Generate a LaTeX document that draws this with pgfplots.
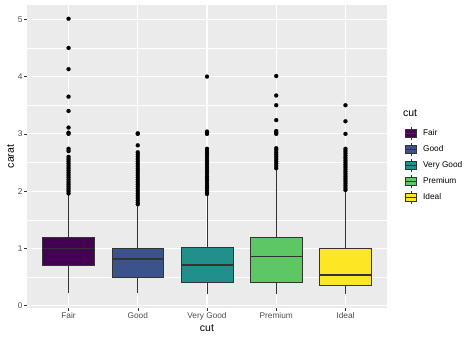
\documentclass[border=0pt]{standalone}
\usepackage{pgfplots}
\pgfplotsset{compat=1.18}
\usepgfplotslibrary{statistics}
\usepackage{fontspec}
\setmainfont{Liberation Sans}
\definecolor{gray20}{HTML}{333333}
\definecolor{gray30}{HTML}{4D4D4D}
\definecolor{gray92}{HTML}{EBEBEB}
\definecolor{vA}{HTML}{440154}
\definecolor{vB}{HTML}{3B528B}
\definecolor{vC}{HTML}{21908C}
\definecolor{vD}{HTML}{5DC863}
\definecolor{vE}{HTML}{FDE725}
\newcommand{\keyimg}[1]{\draw[draw=gray20,line width=0.5pt] (5.5pt,-6.5pt)--(5.5pt,6.5pt);
  \draw[draw=gray20,fill=#1,line width=0.5pt] (0pt,-4pt) rectangle (11pt,4pt);
  \draw[draw=gray20,line width=0.9pt] (0pt,0pt)--(11pt,0pt);}
\begin{document}
\begin{tikzpicture}
\begin{axis}[
  scale only axis, width=360pt, height=303pt,
  xmin=0.4, xmax=5.6, ymin=-0.04, ymax=5.25,
  xtick={1,2,3,4,5}, xticklabels={Fair,Good,Very Good,Premium,Ideal},
  ytick={0,1,2,3,4,5}, minor ytick={0.5,1.5,2.5,3.5,4.5},
  /pgf/number format/assume math mode=true,
  xmajorgrids, ymajorgrids, yminorgrids,
  major grid style={white, line width=1.07pt},
  minor grid style={white, line width=0.53pt},
  axis background/.style={fill=gray92},
  axis line style={draw=none},
  tick style={draw=gray20, line width=0.53pt},
  major tick length=2.75pt, minor tick length=0pt,
  tick align=outside, tick pos=left,
  ticklabel style={font=\fontsize{8.3}{10}\selectfont, text=gray30},
  xticklabel style={inner sep=1.5pt},
  yticklabel style={inner sep=1.5pt},
  xlabel={cut}, ylabel={carat},
  label style={font=\fontsize{10.5}{12}\selectfont},
  xlabel style={yshift=1pt},
  ylabel style={yshift=-1pt},
  legend style={at={(axis description cs:1.05,0.6)}, anchor=north west,
    draw=none, fill=none, font=\fontsize{8.3}{10}\selectfont,
    row sep=2.6pt, inner sep=0pt, column sep=5pt,
    nodes={inner sep=1pt, anchor=west}},
  legend cell align=left,
  clip=false,
  boxplot/draw direction=y,
  boxplot/every box/.style={draw=gray20, line width=0.6pt},
  boxplot/every whisker/.style={draw=gray20, line width=0.6pt},
  boxplot/every median/.style={draw=gray20, line width=1.7pt},
  boxplot/whisker extend=0,
  boxplot/box extend=0.75,
]
\addplot+[fill=vA, draw=gray20, mark=*, mark size=2pt, mark options={fill=black, draw=black, line width=0.2pt},
  boxplot prepared={draw position=1, lower whisker=0.22, lower quartile=0.70, median=1.00, upper quartile=1.20, upper whisker=1.95},
  legend image code/.code={\keyimg{vA}}]
  coordinates {(0,1.96)(0,2.00)(0,2.04)(0,2.08)(0,2.12)(0,2.16)(0,2.20)(0,2.24)(0,2.28)(0,2.32)(0,2.36)(0,2.40)(0,2.44)(0,2.48)(0,2.52)(0,2.56)(0,2.60)(0,2.70)(0,2.74)(0,3.00)(0,3.02)(0,3.11)(0,3.40)(0,3.65)(0,4.13)(0,4.50)(0,5.01)};
\addlegendentry{Fair}
\addplot+[fill=vB, draw=gray20, mark=*, mark size=2pt, mark options={fill=black, draw=black, line width=0.2pt},
  boxplot prepared={draw position=2, lower whisker=0.23, lower quartile=0.50, median=0.82, upper quartile=1.01, upper whisker=1.75},
  legend image code/.code={\keyimg{vB}}]
  coordinates {(0,1.77)(0,1.80)(0,1.84)(0,1.88)(0,1.92)(0,1.96)(0,2.00)(0,2.04)(0,2.08)(0,2.12)(0,2.16)(0,2.20)(0,2.24)(0,2.28)(0,2.32)(0,2.36)(0,2.40)(0,2.44)(0,2.48)(0,2.52)(0,2.56)(0,2.60)(0,2.64)(0,2.68)(0,2.80)(0,3.00)(0,3.01)};
\addlegendentry{Good}
\addplot+[fill=vC, draw=gray20, mark=*, mark size=2pt, mark options={fill=black, draw=black, line width=0.2pt},
  boxplot prepared={draw position=3, lower whisker=0.20, lower quartile=0.41, median=0.71, upper quartile=1.02, upper whisker=1.93},
  legend image code/.code={\keyimg{vC}}]
  coordinates {(0,1.95)(0,1.98)(0,2.02)(0,2.06)(0,2.10)(0,2.14)(0,2.18)(0,2.22)(0,2.26)(0,2.30)(0,2.34)(0,2.38)(0,2.42)(0,2.46)(0,2.50)(0,2.54)(0,2.58)(0,2.62)(0,2.66)(0,2.70)(0,2.74)(0,3.00)(0,3.02)(0,3.04)(0,4.00)};
\addlegendentry{Very Good}
\addplot+[fill=vD, draw=gray20, mark=*, mark size=2pt, mark options={fill=black, draw=black, line width=0.2pt},
  boxplot prepared={draw position=4, lower whisker=0.20, lower quartile=0.41, median=0.86, upper quartile=1.20, upper whisker=2.38},
  legend image code/.code={\keyimg{vD}}]
  coordinates {(0,2.40)(0,2.44)(0,2.48)(0,2.52)(0,2.56)(0,2.60)(0,2.64)(0,2.68)(0,2.72)(0,2.75)(0,3.00)(0,3.02)(0,3.05)(0,3.24)(0,3.50)(0,3.67)(0,4.01)};
\addlegendentry{Premium}
\addplot+[fill=vE, draw=gray20, mark=*, mark size=2pt, mark options={fill=black, draw=black, line width=0.2pt},
  boxplot prepared={draw position=5, lower whisker=0.20, lower quartile=0.35, median=0.54, upper quartile=1.01, upper whisker=2.00},
  legend image code/.code={\keyimg{vE}}]
  coordinates {(0,2.02)(0,2.06)(0,2.10)(0,2.14)(0,2.18)(0,2.22)(0,2.26)(0,2.30)(0,2.34)(0,2.38)(0,2.42)(0,2.46)(0,2.50)(0,2.54)(0,2.58)(0,2.62)(0,2.66)(0,2.70)(0,2.74)(0,3.00)(0,3.22)(0,3.50)};
\addlegendentry{Ideal}
\node[anchor=base west, font=\fontsize{10.5}{12}\selectfont, inner sep=0pt] at (axis description cs:1.044,0.633) {cut};
\end{axis}
\pgfresetboundingbox
\path ([xshift=-27pt,yshift=-30pt]current axis.south west) rectangle ([xshift=87pt,yshift=5pt]current axis.north east);
\end{tikzpicture}
\end{document}
